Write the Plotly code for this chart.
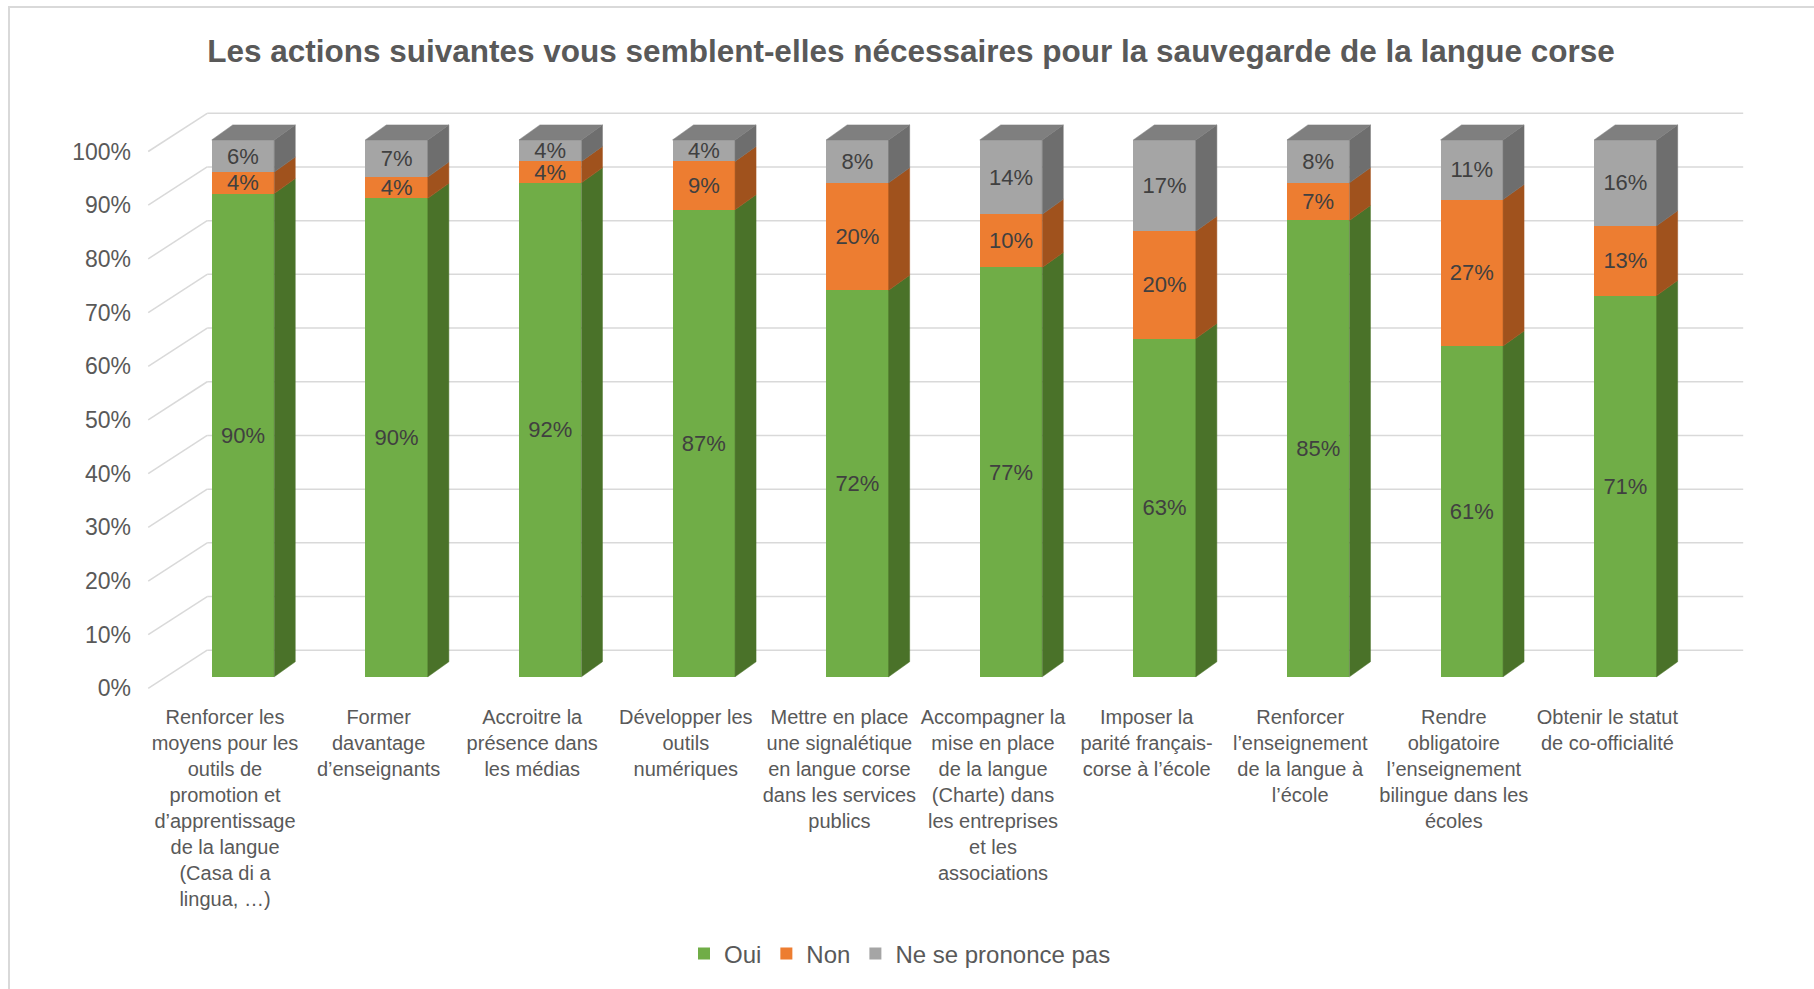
import plotly.graph_objects as go

# ---- data -------------------------------------------------------------
categories = [
    "Renforcer les<br>moyens pour les<br>outils de<br>promotion et<br>d’apprentissage<br>de la langue<br>(Casa di a<br>lingua, …)",
    "Former<br>davantage<br>d’enseignants",
    "Accroitre la<br>présence dans<br>les médias",
    "Développer les<br>outils<br>numériques",
    "Mettre en place<br>une signalétique<br>en langue corse<br>dans les services<br>publics",
    "Accompagner la<br>mise en place<br>de la langue<br>(Charte) dans<br>les entreprises<br>et les<br>associations",
    "Imposer la<br>parité français-<br>corse à l’école",
    "Renforcer<br>l’enseignement<br>de la langue à<br>l’école",
    "Rendre<br>obligatoire<br>l’enseignement<br>bilingue dans les<br>écoles",
    "Obtenir le statut<br>de co-officialité",
]
oui = [90, 90, 92, 87, 72, 77, 63, 85, 61, 71]
non = [4, 4, 4, 9, 20, 10, 20, 7, 27, 13]
nsp = [6, 7, 4, 4, 8, 14, 17, 8, 11, 16]
series_names = ["Oui", "Non", "Ne se prononce pas"]
y_ticks = list(range(0, 101, 10))

title = "Les actions suivantes vous semblent-elles nécessaires pour la sauvegarde de la langue corse"

# ---- look -------------------------------------------------------------
FONT = "Liberation Sans Narrow, Liberation Sans, Arial Narrow, sans-serif"
front_colors = ["#70AD47", "#ED7D31", "#A5A5A5"]
side_colors = ["#4A7229", "#A0521D", "#6E6E6E"]
top_color = "#7F7F7F"
grid_color = "#D9D9D9"

W, H = 1814, 989
L, R, T, B = 140, 60, 100, 290
X0PX, XSTEP = 243.0, 153.6      # pixel of category 0 centre, pixels per category
Y0PX, YSTEP = 676.8, 5.369      # pixel of 0 %, pixels per percent

def ux(px):
    return px / XSTEP

def uy(px):
    return px / YSTEP

x_range = [(L - X0PX) / XSTEP, (W - R - X0PX) / XSTEP]
y_range = [(Y0PX - (H - B)) / YSTEP, (Y0PX - T) / YSTEP]

bar_w = ux(62.5)
depth_x, depth_y = ux(21), uy(15)          # bar depth
back_x, back_y = ux(41), uy(26.6)          # back wall offset
front_x, front_y = ux(-18), uy(-11.6)      # front axis offset

# 100% stacked: normalise each column
raw = [oui, non, nsp]
totals = [sum(v) for v in zip(*raw)]
heights = [[v / t * 100 for v, t in zip(s, totals)] for s in raw]

fig = go.Figure()

# front faces
for k, name in enumerate(series_names):
    fig.add_trace(go.Bar(
        x=list(range(len(categories))), y=heights[k], name=name,
        width=bar_w, marker=dict(color=front_colors[k], line=dict(width=0)),
        hoverinfo="skip",
    ))

# side faces + labels
lab_x, lab_y, lab_t = [], [], []
for k in range(3):
    xs, ys = [], []
    for i in range(len(categories)):
        base = sum(heights[j][i] for j in range(k))
        top = base + heights[k][i]
        xr = i + bar_w / 2
        xs += [xr, xr + depth_x, xr + depth_x, xr, xr, None]
        ys += [base, base + depth_y, top + depth_y, top, base, None]
        lab_x.append(i)
        lab_y.append((base + top) / 2 - uy(2))
        lab_t.append(f"{raw[k][i]}%")
    fig.add_trace(go.Scatter(
        x=xs, y=ys, mode="lines", fill="toself", fillcolor=side_colors[k],
        line=dict(width=0.5, color=side_colors[k]), showlegend=False, hoverinfo="skip",
    ))

# top faces
xs, ys = [], []
for i in range(len(categories)):
    xl, xr = i - bar_w / 2, i + bar_w / 2
    xs += [xl, xr, xr + depth_x, xl + depth_x, xl, None]
    ys += [100, 100, 100 + depth_y, 100 + depth_y, 100, None]
fig.add_trace(go.Scatter(
    x=xs, y=ys, mode="lines", fill="toself", fillcolor=top_color,
    line=dict(width=0.5, color=top_color), showlegend=False, hoverinfo="skip",
))

fig.add_trace(go.Scatter(
    x=lab_x, y=lab_y, text=lab_t, mode="text", textposition="middle center",
    textfont=dict(family=FONT, size=22, color="#404040"),
    showlegend=False, hoverinfo="skip",
))

# back wall gridlines and floor diagonals
x_left, x_right = -0.5, len(categories) - 0.5
for v in y_ticks:
    fig.add_shape(type="line", layer="below", xref="x", yref="y",
                  x0=x_left + back_x, x1=x_right + back_x, y0=v + back_y, y1=v + back_y,
                  line=dict(color=grid_color, width=1.5))
    fig.add_shape(type="line", layer="below", xref="x", yref="y",
                  x0=x_left + front_x, x1=x_left + back_x, y0=v + front_y, y1=v + back_y,
                  line=dict(color=grid_color, width=1.5))

# chart frame (left and top edges)
fig.add_shape(type="rect", xref="paper", yref="paper", layer="below",
              x0=(9 - L) / (W - L - R), x1=(W + 20 - L) / (W - L - R),
              y0=-(H + 20 - (H - B)) / (H - T - B), y1=1 + (T - 7) / (H - T - B),
              line=dict(color="#D9D9D9", width=2))

fig.update_layout(
    width=W, height=H,
    margin=dict(l=L, r=R, t=T, b=B),
    barmode="stack", bargap=0,
    plot_bgcolor="white", paper_bgcolor="white",
    font=dict(family=FONT, color="#595959"),
    title=dict(text=f"<b>{title}</b>", x=911 / W, y=1 - 51 / H,
               xanchor="center", yanchor="middle",
               font=dict(family=FONT, size=31.5, color="#595959")),
    xaxis=dict(range=x_range, showgrid=False, zeroline=False, showticklabels=False,
               showline=False, fixedrange=True),
    yaxis=dict(range=y_range, showgrid=False, zeroline=False, showticklabels=False,
               showline=False, fixedrange=True),
    xaxis2=dict(overlaying="x", side="bottom", anchor="y",
                range=[x_range[0] - front_x, x_range[1] - front_x],
                tickvals=list(range(len(categories))), ticktext=categories,
                tickangle=0, showgrid=False, zeroline=False, showline=False, ticks="",
                ticklabelstandoff=4,
                tickfont=dict(family=FONT, size=20, color="#595959")),
    yaxis2=dict(overlaying="y", side="left", anchor="x",
                range=[y_range[0] - front_y, y_range[1] - front_y],
                tickvals=y_ticks, ticktext=[f"{v}%" for v in y_ticks],
                showgrid=False, zeroline=False, showline=False, ticks="",
                ticklabelstandoff=8,
                tickfont=dict(family=FONT, size=23, color="#595959")),
    legend=dict(orientation="h", x=(900 - L) / (W - L - R), xanchor="center",
                y=-(954 - (H - B)) / (H - T - B), yanchor="middle",
                font=dict(family=FONT, size=24, color="#595959"),
                traceorder="normal"),
)

# dummy trace so the overlay axes are drawn
fig.add_trace(go.Scatter(x=[None], y=[None], xaxis="x2", yaxis="y2",
                         showlegend=False, hoverinfo="skip"))

fig.write_html("out.html", config={"displayModeBar": False},
               post_script="document.body.style.margin='0px';")
